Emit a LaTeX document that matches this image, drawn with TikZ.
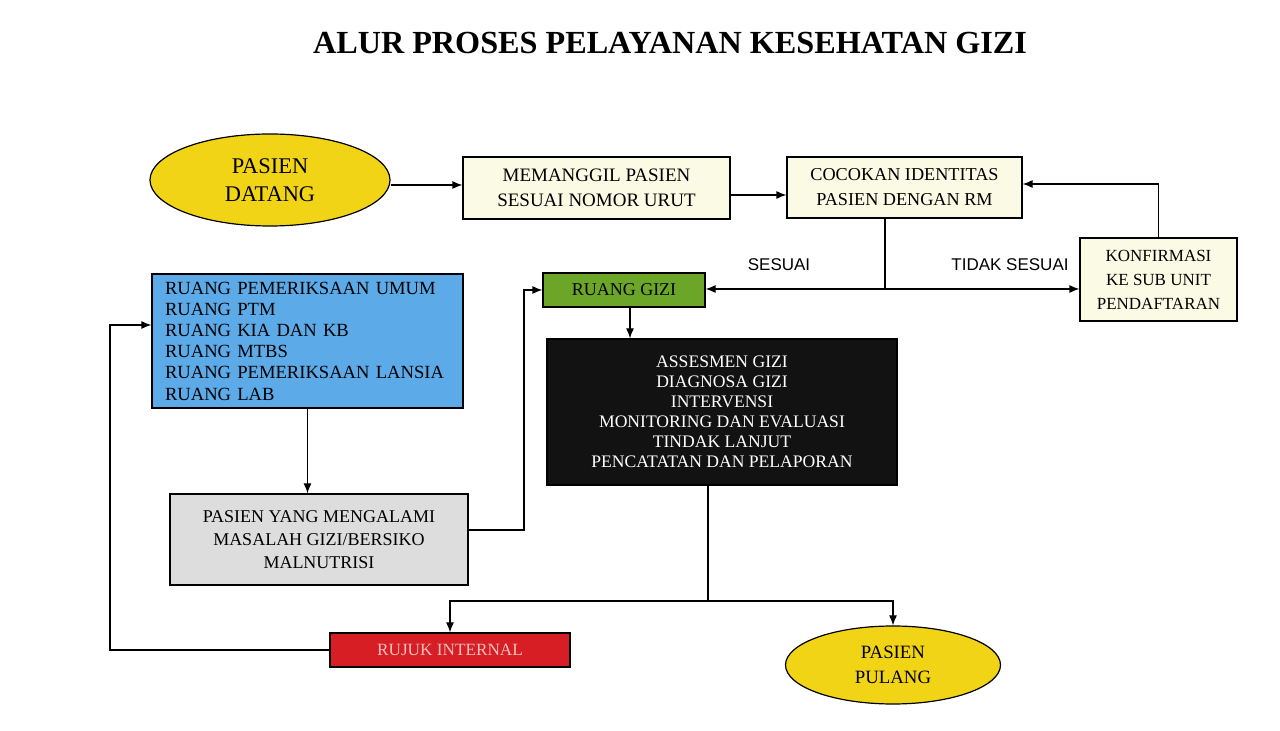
\documentclass[tikz,border=0pt]{standalone}
\usepackage{fontspec}
\setmainfont{Liberation Serif}
\newfontfamily\labelsans{Liberation Sans}
\usetikzlibrary{arrows.meta,shapes.geometric,calc}
\definecolor{ylw}{RGB}{242,212,22}
\definecolor{cream}{RGB}{251,250,228}
\definecolor{grn}{RGB}{108,166,40}
\definecolor{blu}{RGB}{92,170,232}
\definecolor{gry}{RGB}{221,221,221}
\definecolor{rd}{RGB}{214,30,36}
\definecolor{blk}{RGB}{18,18,18}
\definecolor{pinktxt}{RGB}{245,190,190}
\tikzset{
  box/.style={draw=black, line width=0.6pt, rectangle, inner sep=0pt, align=center},
  oval/.style={draw=black, line width=0.6pt, ellipse, fill=ylw, inner sep=0pt, align=center},
  conn/.style={line width=0.6pt, draw=black},
  arr/.style={conn, -{Latex[length=5pt,width=4pt]}},
  lbl/.style={font=\labelsans\fontsize{8.5pt}{10pt}\selectfont}
}
\begin{document}
\begin{tikzpicture}[x=0.5pt,y=-0.5pt]
\useasboundingbox[fill=white] (0,0) rectangle (1280,731);

\node (title) at (670,43) {\fontsize{16.1pt}{19pt}\selectfont\bfseries ALUR PROSES PELAYANAN KESEHATAN GIZI};

\node[oval, minimum width=120pt, minimum height=46pt,
      font=\fontsize{11.2pt}{14pt}\selectfont] (datang) at (270,180) {PASIEN\\DATANG};

\node[box, fill=cream, minimum width=133.5pt, minimum height=31pt,
      font=\fontsize{9.5pt}{12.5pt}\selectfont] (mem) at (596.5,188) {MEMANGGIL PASIEN\\SESUAI NOMOR URUT};

\node[box, fill=cream, minimum width=117.5pt, minimum height=30.5pt,
      font=\fontsize{9.1pt}{12.5pt}\selectfont] (coc) at (904.5,187.5) {COCOKAN IDENTITAS\\PASIEN DENGAN RM};

\node[box, fill=cream, minimum width=78.5pt, minimum height=41.5pt,
      font=\fontsize{8.5pt}{12pt}\selectfont] (konf) at (1158.5,279.5) {KONFIRMASI\\KE SUB UNIT\\PENDAFTARAN};

\node[box, fill=grn, minimum width=81pt, minimum height=17pt,
      font=\fontsize{9pt}{11pt}\selectfont] (gizi) at (624,290) {RUANG GIZI};

\node[box, fill=blu, minimum width=155.5pt, minimum height=67pt,
      text width=142.5pt, align=left,
      font=\fontsize{9.3pt}{10.6pt}\selectfont] (blue) at (307.5,341)
  {RUANG PEMERIKSAAN UMUM\\RUANG PTM\\RUANG KIA DAN KB\\RUANG MTBS\\RUANG PEMERIKSAAN LANSIA\\RUANG LAB};

\node[box, fill=blk, text=white, minimum width=175pt, minimum height=73pt,
      font=\fontsize{8.8pt}{10pt}\selectfont] (black) at (722,412)
  {ASSESMEN GIZI\\DIAGNOSA GIZI\\INTERVENSI\\MONITORING DAN EVALUASI\\TINDAK LANJUT\\PENCATATAN DAN PELAPORAN};

\node[box, fill=gry, minimum width=149pt, minimum height=45.5pt,
      font=\fontsize{9pt}{11.5pt}\selectfont] (gray) at (319,539.5)
  {PASIEN YANG MENGALAMI\\MASALAH GIZI/BERSIKO\\MALNUTRISI};

\node[box, fill=rd, text=pinktxt, minimum width=120pt, minimum height=17pt,
      font=\fontsize{8.6pt}{10pt}\selectfont] (rujuk) at (450,650) {RUJUK INTERNAL};

\node[oval, minimum width=107.5pt, minimum height=39pt,
      font=\fontsize{9.4pt}{12.5pt}\selectfont] (pulang) at (893,665) {PASIEN\\PULANG};

\node[lbl] (sesuai) at (779,265) {SESUAI};
\node[lbl] (tidak) at (1010,265) {TIDAK SESUAI};

% connectors
\draw[arr] ([yshift=-2.5pt]datang.east) -- ([yshift=-2.5pt]datang.east -| mem.west);
\draw[arr] ([yshift=-3.5pt]mem.east) -- ([yshift=-3.5pt]mem.east -| coc.west);

\coordinate (s1) at (885,289);
\draw[conn] (s1 |- coc.south) -- (s1);
\draw[arr] (s1) -- (s1 -| gizi.east);
\draw[arr] (s1) -- (s1 -| konf.west);

\draw[arr] (konf.north) |- ([yshift=1.75pt]coc.east);

\draw[arr] ([xshift=3pt]gizi.south) -- ([xshift=3pt]gizi.south |- black.north);

\draw[arr] (blue.south) -- (blue.south |- gray.north);

\coordinate (g1) at (524,530);
\draw[arr] (g1 -| gray.east) -- (g1) |- (gizi.west);

\coordinate (s2) at (708,601);
\draw[conn] (s2 |- black.south) -- (s2);
\draw[arr] (s2) -| (rujuk.north);
\draw[arr] (s2) -| (pulang.north);

\coordinate (l1) at (110,325);
\draw[arr] (rujuk.west) -| (l1) -- (l1 -| blue.west);
\end{tikzpicture}
\end{document}
